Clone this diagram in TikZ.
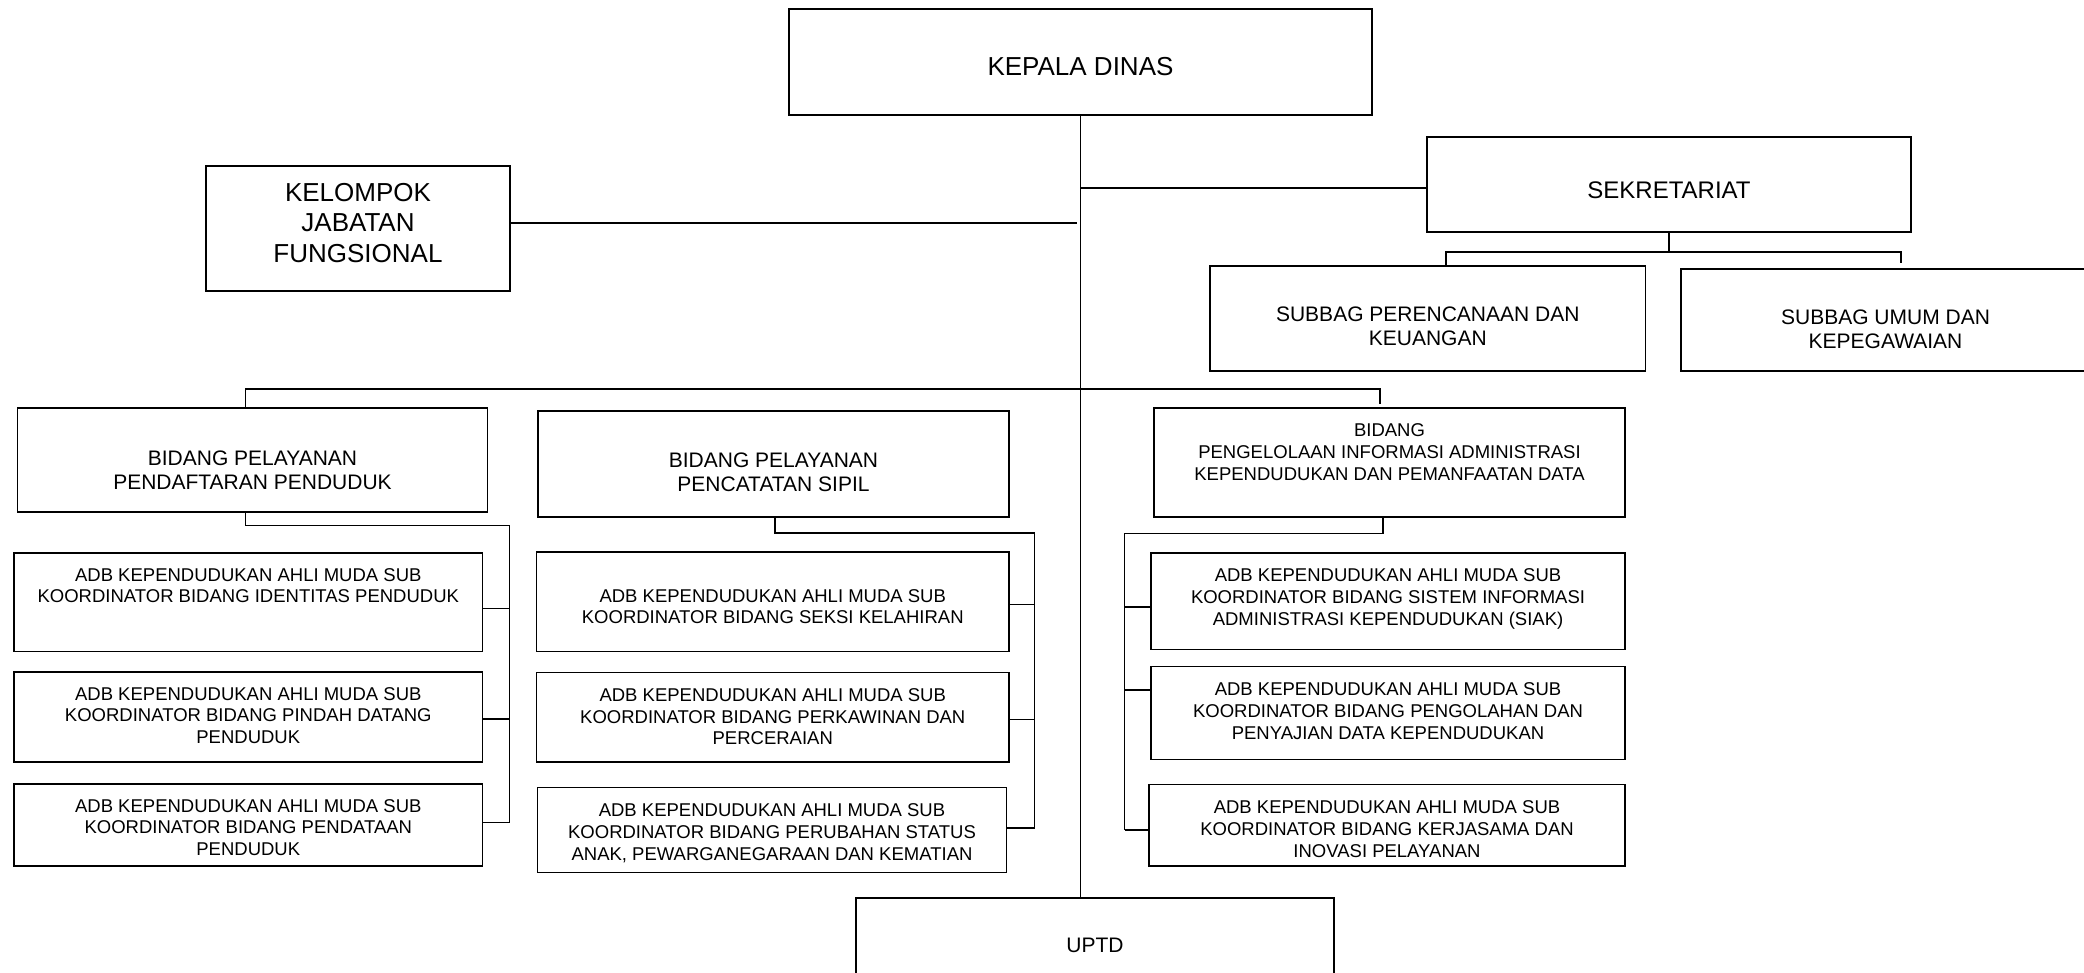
\documentclass[tikz,border=0pt]{standalone}
\usepackage{fontspec}
\setmainfont{Liberation Sans}
\begin{document}
\begin{tikzpicture}[x=1pt,y=-1pt,
  box/.style={draw, line width=1.5pt, inner sep=0pt},
  txt/.style={align=center, inner sep=0pt, text depth=0pt},
  conn/.style={line width=1.3pt},
  fL/.style={font=\fontsize{26}{30.4}\selectfont},
  fK/.style={font=\fontsize{24}{28}\selectfont},
  fM/.style={font=\fontsize{21}{24}\selectfont},
  fS/.style={font=\fontsize{18.5}{21.7}\selectfont}]
\useasboundingbox (0,0) rectangle (2084,973);
\clip (0,0) rectangle (2084,973);

% ---------- boxes ----------
\node[box,minimum width=583pt,minimum height=106pt] (kepala) at (1080.5,62) {};
\node[box,minimum width=304pt,minimum height=125pt] (kjf) at (358,228.5) {};
\node[box,minimum width=484pt,minimum height=95pt] (sek) at (1669,184.5) {};
\node[box,minimum width=435.5pt,minimum height=105pt] (subp) at (1427.75,318.5) {};
\node[box,minimum width=409pt,minimum height=102pt] (subu) at (1885.5,320) {};
\node[box,minimum width=470pt,minimum height=104pt] (bpp) at (252.5,460) {};
\node[box,minimum width=471pt,minimum height=106pt] (bps) at (773.5,464) {};
\node[box,minimum width=471pt,minimum height=109pt] (bpi) at (1389.5,462.5) {};
\node[box,minimum width=468.6pt,minimum height=98.8pt] (L1) at (248.3,602.2) {};
\node[box,minimum width=468.6pt,minimum height=90pt] (L2) at (248.3,717) {};
\node[box,minimum width=468.6pt,minimum height=82pt] (L3) at (248.3,825) {};
\node[box,minimum width=472.1pt,minimum height=99.6pt] (M1) at (772.75,601.8) {};
\node[box,minimum width=472.1pt,minimum height=89.6pt] (M2) at (772.75,717.2) {};
\node[box,minimum width=469.3pt,minimum height=84.7pt] (M3) at (772,830) {};
\node[box,minimum width=474pt,minimum height=96.5pt] (R1) at (1388,601) {};
\node[box,minimum width=474pt,minimum height=92.7pt] (R2) at (1388,713) {};
\node[box,minimum width=476pt,minimum height=81.3pt] (R3) at (1387,825.3) {};
\node[box,minimum width=478pt,minimum height=94pt] (uptd) at (1095,945) {};

% ---------- texts ----------
\node[txt,fL] (kepalaT) at (1080.5,66) {KEPALA DINAS};
\node[txt,fL] (kjfT) at (358,222.8) {KELOMPOK\\JABATAN\\FUNGSIONAL};
\node[txt,fK] (sekT) at (1669,190) {SEKRETARIAT};
\node[txt,fM] (subpT) at (1427.75,326.5) {SUBBAG PERENCANAAN DAN\\KEUANGAN};
\node[txt,fM] (subuT) at (1885.5,328.7) {SUBBAG UMUM DAN\\KEPEGAWAIAN};
\node[txt,fM] (bppT) at (252.5,469.8) {BIDANG PELAYANAN\\PENDAFTARAN PENDUDUK};
\node[txt,fM] (bpsT) at (773.5,472.3) {BIDANG PELAYANAN\\PENCATATAN SIPIL};
\node[txt,fS] (bpiT) at (1389.5,452) {BIDANG\\PENGELOLAAN INFORMASI ADMINISTRASI\\KEPENDUDUKAN DAN PEMANFAATAN DATA};
\node[txt,fS] (L1T) at (248.3,585.5) {ADB KEPENDUDUKAN AHLI MUDA SUB\\KOORDINATOR BIDANG IDENTITAS PENDUDUK};
\node[txt,fS] (L2T) at (248.3,715.5) {ADB KEPENDUDUKAN AHLI MUDA SUB\\KOORDINATOR BIDANG PINDAH DATANG\\PENDUDUK};
\node[txt,fS] (L3T) at (248.3,827.4) {ADB KEPENDUDUKAN AHLI MUDA SUB\\KOORDINATOR BIDANG PENDATAAN\\PENDUDUK};
\node[txt,fS] (M1T) at (772.75,606.5) {ADB KEPENDUDUKAN AHLI MUDA SUB\\KOORDINATOR BIDANG SEKSI KELAHIRAN};
\node[txt,fS] (M2T) at (772.75,716.6) {ADB KEPENDUDUKAN AHLI MUDA SUB\\KOORDINATOR BIDANG PERKAWINAN DAN\\PERCERAIAN};
\node[txt,fS] (M3T) at (772,832) {ADB KEPENDUDUKAN AHLI MUDA SUB\\KOORDINATOR BIDANG PERUBAHAN STATUS\\ANAK, PEWARGANEGARAAN DAN KEMATIAN};
\node[txt,fS] (R1T) at (1388,597) {ADB KEPENDUDUKAN AHLI MUDA SUB\\KOORDINATOR BIDANG SISTEM INFORMASI\\ADMINISTRASI KEPENDUDUKAN (SIAK)};
\node[txt,fS] (R2T) at (1388,711) {ADB KEPENDUDUKAN AHLI MUDA SUB\\KOORDINATOR BIDANG PENGOLAHAN DAN\\PENYAJIAN DATA KEPENDUDUKAN};
\node[txt,fS] (R3T) at (1387,829) {ADB KEPENDUDUKAN AHLI MUDA SUB\\KOORDINATOR BIDANG KERJASAMA DAN\\INOVASI PELAYANAN};
\node[txt,fM] (uptdT) at (1095,945) {UPTD};

% ---------- trunk and top connectors ----------
\draw[conn] (kepala.south) -- (kepala.south |- uptd.north);
\coordinate (kjfE) at (1077,223);
\draw[conn,line width=2.2pt] (kjf.east |- kjfE) -- (kjfE);
\coordinate (sekJ) at (1081,188);
\draw[conn] (sekJ) -- (sekJ -| sek.west);

% sekretariat children
\coordinate (sbL) at (1446,252);
\coordinate (sbR) at (1901,252);
\coordinate (sbRe) at (1901,263);
\draw[conn] (sek.south) -- (sek.south |- sbL);
\draw[conn] (sbL |- subp.north) -- (sbL) -- (sbR) -- (sbRe);

% main bar
\coordinate (mbL) at (245.5,389);
\coordinate (mbR) at (1380,389);
\coordinate (mbRe) at (1380,404);
\draw[conn] (mbL |- bpp.north) -- (mbL) -- (mbR) -- (mbRe);

% left tree
\coordinate (lt1) at (245.5,525.6);
\coordinate (lt2) at (509.3,525.6);
\coordinate (lt3) at (509.3,822.5);
\draw[conn] (lt1 |- bpp.south) -- (lt1) -- (lt2) -- (lt3);
\coordinate (lk1) at (509.3,608.8);
\coordinate (lk2) at (509.3,719);
\draw[conn] (lk1) -- (lk1 -| L1.east);
\draw[conn] (lk2) -- (lk2 -| L2.east);
\draw[conn] (lt3) -- (lt3 -| L3.east);

% middle tree
\coordinate (mt1) at (775,533);
\coordinate (mt2) at (1034.7,533);
\coordinate (mt3) at (1034.7,828);
\draw[conn] (mt1 |- bps.south) -- (mt1) -- (mt2) -- (mt3);
\coordinate (mk1) at (1034.7,604.3);
\coordinate (mk2) at (1034.7,719.3);
\draw[conn] (mk1) -- (mk1 -| M1.east);
\draw[conn] (mk2) -- (mk2 -| M2.east);
\draw[conn] (mt3) -- (mt3 -| M3.east);

% right tree
\coordinate (rt1) at (1383,533.2);
\coordinate (rt2) at (1124.5,533.2);
\coordinate (rt3) at (1124.5,830);
\draw[conn] (rt1 |- bpi.south) -- (rt1) -- (rt2) -- (rt3);
\coordinate (rk1) at (1124.5,607);
\coordinate (rk2) at (1124.5,690);
\draw[conn] (rk1) -- (rk1 -| R1.west);
\draw[conn] (rk2) -- (rk2 -| R2.west);
\draw[conn] (rt3) -- (rt3 -| R3.west);
\end{tikzpicture}
\end{document}
